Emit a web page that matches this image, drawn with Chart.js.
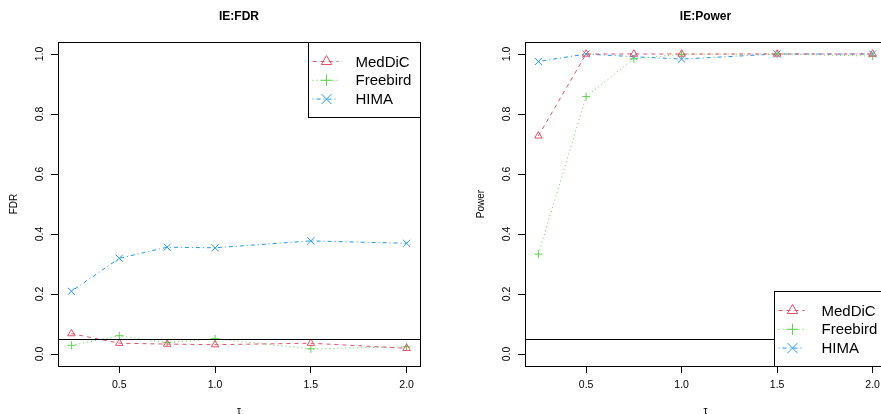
<!DOCTYPE html>
<html>
<head>
<meta charset="utf-8">
<script src="https://cdn.jsdelivr.net/npm/chart.js@4.4.0/dist/chart.umd.min.js"></script>
<style>
  html, body { margin: 0; padding: 0; background: #fff; overflow: hidden; }
  body { width: 881px; height: 414px; position: relative; }
  canvas { position: absolute; top: 0; }
  #fdrChart { left: 0; }
  #powChart { left: 440px; }
</style>
</head>
<body>
<canvas id="fdrChart" width="440" height="414"></canvas>
<canvas id="powChart" width="460" height="414"></canvas>
<script>
// values
const taus = [0.25, 0.5, 0.75, 1.0, 1.5, 2.0];
const methods = ["MedDiC", "Freebird", "HIMA"];
const fdrMedDiC = [0.068, 0.036, 0.033, 0.031, 0.036, 0.019];
const fdrFreebird = [0.029, 0.061, 0.038, 0.051, 0.017, 0.024];
const fdrHIMA = [0.209, 0.319, 0.356, 0.354, 0.377, 0.369];
const powMedDiC = [0.727, 1.0, 1.0, 1.0, 1.0, 1.0];
const powFreebird = [0.333, 0.858, 0.984, 0.999, 1.0, 0.993];
const powHIMA = [0.975, 1.0, 0.991, 0.983, 1.0, 1.0];
const xTicks = [0.5, 1.0, 1.5, 2.0];
const yTicks = [0, 0.2, 0.4, 0.6, 0.8, 1.0];
const refLevel = 0.05;

Chart.defaults.font.family = "'Liberation Sans', Arial, Helvetica, sans-serif";
Chart.defaults.color = "#000";

const looks = [
    { color: "#DF536B", dash: [4, 4], point: "triangle", radius: 4.3 },
    { color: "#61D04F", dash: [1, 3], point: "cross", radius: 4 },
    { color: "#2297E6", dash: [1, 3, 4, 3], point: "crossRot", radius: 5 },
];

function makeSets(seriesList) {
    return seriesList.map((vals, i) => ({
        label: methods[i],
        data: taus.map((t, k) => ({ x: t, y: vals[k] })),
        borderColor: looks[i].color,
        borderWidth: 1,
        borderDash: looks[i].dash,
        pointStyle: looks[i].point,
        pointRadius: looks[i].radius,
        pointBorderColor: looks[i].color,
        pointBackgroundColor: "rgba(0,0,0,0)",
        pointBorderWidth: 1,
        tension: 0,
    }));
}

// box round the plot, the 0.05 line and an R-style legend
const rDecor = {
    id: "rDecor",
    afterDatasetsDraw(chart, args, opts) {
        const { ctx, chartArea: a } = chart;
        const ys = chart.scales.y;
        ctx.save();
        ctx.strokeStyle = "#000";
        ctx.lineWidth = 1;
        const yr = Math.round(ys.getPixelForValue(refLevel)) + 0.5;
        ctx.beginPath();
        ctx.moveTo(a.left, yr);
        ctx.lineTo(a.right, yr);
        ctx.stroke();

        const w = 112, h = 75;
        const x0 = Math.round(a.right - w) + 0.5;
        const y0 = Math.round(opts.corner === "top" ? a.top : a.bottom - h) + 0.5;
        ctx.fillStyle = "#fff";
        ctx.fillRect(x0, y0, w, h);
        ctx.strokeRect(x0, y0, w, h);
        chart.data.datasets.forEach((ds, i) => {
            const y = y0 + 19 + i * 18.8;
            ctx.strokeStyle = ds.borderColor;
            ctx.setLineDash(ds.borderDash);
            ctx.beginPath();
            ctx.moveTo(x0 + 4, y);
            ctx.lineTo(x0 + 30, y);
            ctx.stroke();
            ctx.setLineDash([]);
            ctx.fillStyle = "rgba(0,0,0,0)";
            Chart.helpers.drawPoint(ctx, { pointStyle: ds.pointStyle, radius: ds.pointRadius * 1.4, borderWidth: 1, rotation: 0 }, x0 + 18, y);
            ctx.fillStyle = "#000";
            ctx.font = "15px 'Liberation Sans', Arial, sans-serif";
            ctx.textBaseline = "middle";
            ctx.fillText(ds.label, x0 + 47, y + 1);
        });
        ctx.restore();
    },
    afterDraw(chart) {
        const { ctx, chartArea: a } = chart;
        ctx.save();
        ctx.strokeStyle = "#000";
        ctx.lineWidth = 1;
        const l = Math.round(a.left) + 0.5, t = Math.round(a.top) + 0.5;
        ctx.strokeRect(l, t, Math.round(a.right) - Math.round(a.left), Math.round(a.bottom) - Math.round(a.top));
        ctx.restore();
    },
};

function makeChart(id, title, yLabel, seriesList, padLeft, padRight, corner) {
    const axisGrid = { drawOnChartArea: false, color: "#000", tickLength: 7, tickWidth: 1 };
    return new Chart(document.querySelector(id).getContext("2d"), {
        type: "line",
        data: { datasets: makeSets(seriesList) },
        plugins: [rDecor],
        options: {
            responsive: false,
            animation: false,
            events: [],
            layout: { padding: { left: padLeft, right: padRight, top: 0, bottom: 0 } },
            plugins: {
                legend: { display: false },
                tooltip: { enabled: false },
                title: {
                    display: true,
                    text: title,
                    fullSize: false,
                    color: "#000",
                    font: { size: 12, weight: "bold", lineHeight: 1.2 },
                    padding: { top: 9, bottom: 18.6 },
                },
                rDecor: { corner: corner },
            },
            scales: {
                x: {
                    type: "linear",
                    min: 0.18,
                    max: 2.07,
                    afterBuildTicks: (s) => { s.ticks = xTicks.map((v) => ({ value: v })); },
                    afterFit: (s) => { s.height = 48; },
                    grid: axisGrid,
                    border: { display: false },
                    ticks: { autoSkip: false, maxRotation: 0, padding: 5.7, color: "#000", font: { size: 10.5 }, callback: (v) => v.toFixed(1) },
                    title: { display: true, text: "τ", color: "#000", font: { size: 10, lineHeight: 0.6 }, padding: 0 },
                },
                y: {
                    type: "linear",
                    min: -0.04,
                    max: 1.04,
                    afterBuildTicks: (s) => { s.ticks = yTicks.map((v) => ({ value: v })); },
                    afterFit: (s) => { s.width = 58; },
                    grid: axisGrid,
                    border: { display: false },
                    ticks: { autoSkip: false, minRotation: 90, maxRotation: 90, crossAlign: "center", padding: 3.7, color: "#000", font: { size: 10.5 }, callback: (v) => v.toFixed(1) },
                    title: { display: true, text: yLabel, color: "#000", font: { size: 10 }, padding: { top: 8, bottom: 0 } },
                },
            },
        },
    });
}

makeChart("#fdrChart", "IE:FDR", "FDR", [fdrMedDiC, fdrFreebird, fdrHIMA], 0, 20, "top");
makeChart("#powChart", "IE:Power", "Power", [powMedDiC, powFreebird, powHIMA], 27, 14, "bottom");
</script>
</body>
</html>
